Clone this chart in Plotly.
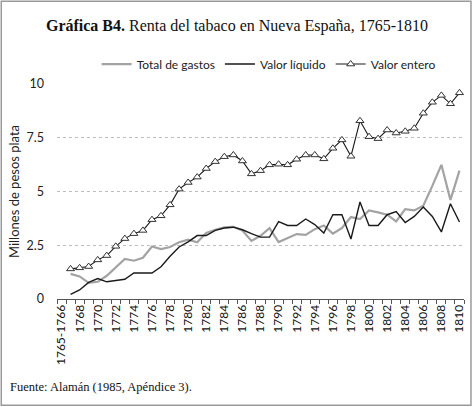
import plotly.graph_objects as go

# Categorías del eje x (la primera queda sin datos, como en el original)
years = ["1765-1766"] + [str(y) for y in range(1767, 1811)]

# Millones de pesos plata, 1767-1810
total_gastos = [None,
                1.17, 1.05, 0.75, 0.80, 1.08, 1.48, 1.86, 1.78, 1.92, 2.44,
                2.32, 2.42, 2.64, 2.76, 2.64, 3.07, 3.22, 3.33, 3.36, 3.19,
                2.70, 2.94, 3.30, 2.65, 2.84, 3.02, 2.98, 3.25, 3.42, 3.04,
                3.30, 3.81, 3.72, 4.12, 4.03, 3.92, 3.61, 4.18, 4.12, 4.34,
                5.26, 6.24, 4.61, 5.97]
valor_liquido = [None,
                 0.22, 0.42, 0.77, 0.95, 0.80, 0.86, 0.92, 1.21, 1.20, 1.21,
                 1.50, 1.99, 2.42, 2.66, 2.95, 2.95, 3.19, 3.30, 3.34, 3.22,
                 3.04, 2.88, 2.88, 3.60, 3.42, 3.42, 3.72, 3.46, 3.07, 3.92,
                 3.92, 2.79, 4.51, 3.42, 3.42, 3.92, 4.07, 3.56, 3.84, 4.28,
                 3.84, 3.12, 4.43, 3.58]
valor_entero = [None,
                1.40, 1.45, 1.51, 1.82, 2.02, 2.45, 2.81, 3.04, 3.19, 3.69,
                3.87, 4.38, 5.11, 5.42, 5.67, 6.07, 6.39, 6.62, 6.70, 6.42,
                5.82, 5.97, 6.24, 6.27, 6.24, 6.50, 6.70, 6.70, 6.52, 7.01,
                7.40, 6.64, 8.29, 7.55, 7.46, 7.86, 7.72, 7.80, 7.94, 8.64,
                9.15, 9.47, 9.08, 9.59]

y_ticks = [0, 2.5, 5, 7.5, 10]
y_ticktext = ["0", "2.5", "5", "7.5", "10"]

SANS = "Lato, 'Open Sans', sans-serif"
SERIF = "'Liberation Serif', 'Times New Roman', serif"

fig = go.Figure()
fig.add_trace(go.Scatter(x=years, y=total_gastos, name="Total de gastos",
                         mode="lines", line=dict(color="#a3a3a3", width=2.2)))
fig.add_trace(go.Scatter(x=years, y=valor_liquido, name="Valor líquido",
                         mode="lines", line=dict(color="#1a1a1a", width=1.4)))
fig.add_trace(go.Scatter(x=years, y=valor_entero, name="Valor entero",
                         mode="lines+markers", line=dict(color="#1a1a1a", width=1.1),
                         marker=dict(symbol="triangle-up", size=7, color="white",
                                     line=dict(color="#333333", width=1))))

# margenes en px -> coordenadas paper para el pie y el marco
L, R, T, B = 57, 8, 84, 107.5
W, H = 474, 407
pw, ph = W - L - R, H - T - B


def px_x(px):
    return (px - L) / pw


def px_y(py):
    return (H - B - py) / ph


fig.update_layout(
    width=W, height=H,
    margin=dict(l=L, r=R, t=T, b=B),
    paper_bgcolor="white", plot_bgcolor="white",
    title=dict(text="<b>Gráfica B4.</b> Renta del tabaco en Nueva España, 1765-1810",
               x=0.5, xanchor="center", y=1 - 25 / H, yanchor="middle",
               font=dict(family=SERIF, size=16, color="#111111")),
    legend=dict(orientation="h", x=0.52, xanchor="center", y=px_y(64), yanchor="middle",
                font=dict(family=SANS, size=12, color="#222222"),
                itemwidth=30, tracegroupgap=0, bgcolor="rgba(0,0,0,0)"),
    showlegend=True,
    xaxis=dict(
        type="category", range=[-0.5, len(years) - 0.5],
        tickmode="array", tickvals=years,
        ticktext=[lab if i % 2 == 0 else "" for i, lab in enumerate(years)],
        tickson="boundaries", ticks="outside", ticklen=4, tickcolor="#555555",
        tickangle=-90, tickfont=dict(family=SANS, size=12, color="#111111"),
        showline=True, linecolor="#555555", linewidth=1.2,
        showgrid=False, zeroline=False,
    ),
    yaxis=dict(
        range=[0, 10], tickvals=y_ticks, ticktext=y_ticktext,
        tickfont=dict(family=SANS, size=12.5, color="#222222"),
        ticklabelstandoff=12,
        showgrid=True, gridcolor="#bdbdbd", griddash="dot", gridwidth=1,
        zeroline=False, showline=False,
        title=dict(text="Millones de pesos plata", standoff=3,
                   font=dict(family=SANS, size=13, color="#222222")),
    ),
)

fig.add_annotation(text="Fuente: Alamán (1985, Apéndice 3).",
                   xref="paper", yref="paper", x=px_x(8), y=px_y(388),
                   xanchor="left", yanchor="middle", showarrow=False,
                   font=dict(family=SERIF, size=12.5, color="#111111"))

fig.add_shape(type="rect", xref="paper", yref="paper",
              x0=px_x(1), x1=px_x(473), y0=px_y(406), y1=px_y(1),
              line=dict(color="#9a9a9a", width=1.5), layer="below")

fig.write_html("out.html", config={"displayModeBar": False},
               post_script="document.body.style.margin='0px';"
                           "document.body.style.overflow='hidden';")
